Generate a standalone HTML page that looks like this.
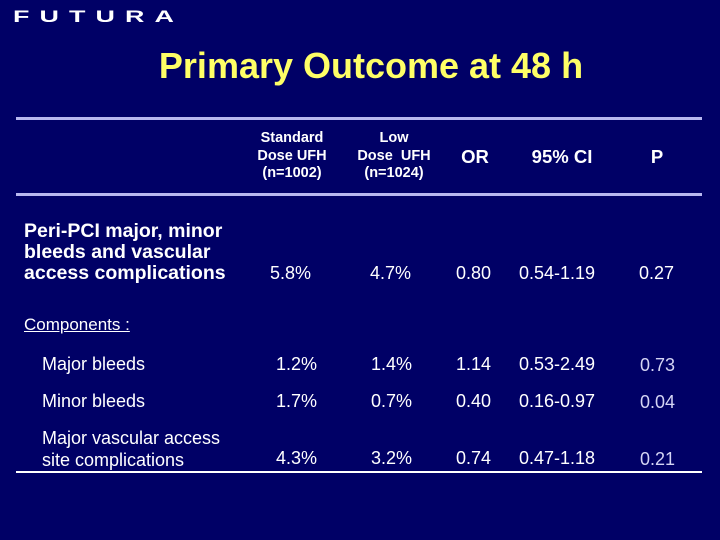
<!DOCTYPE html>
<html><head><meta charset="utf-8"><style>
html,body{margin:0;padding:0}
body{width:720px;height:540px;background:#000066;position:relative;overflow:hidden;font-family:"Liberation Sans",sans-serif;color:#fff}
.t{position:absolute;white-space:nowrap;line-height:1}
.c{transform:translateX(-50%);text-align:center}
.h{font-size:14.5px;line-height:17.5px;font-weight:bold}
.v{font-size:18px}
.hv{font-size:18.5px;font-weight:bold}
.b{font-weight:bold}
.p{color:#d4d4f4}
.rule{position:absolute;left:16px;width:686px;height:3px}
</style></head><body>
<div class="t" style="left:13px;top:9px;font-size:24px;letter-spacing:9px;transform:scale(1.12,0.68);transform-origin:left top;font-weight:bold">FUTURA</div>
<div class="t b c" style="left:371px;top:48px;font-size:36px;color:#ffff66">Primary Outcome at 48 h</div>
<div class="rule" style="top:117px;background:#b8b8f0"></div>
<div class="rule" style="top:193px;background:#b8b8f0"></div>
<div class="rule" style="top:471px;height:2px;background:#fff"></div>

<div class="t c h" style="left:292px;top:130px">Standard<br>Dose UFH<br>(n=1002)</div>
<div class="t c h" style="left:394px;top:130px">Low<br>Dose&nbsp; UFH<br>(n=1024)</div>
<div class="t c hv" style="left:475px;top:148px">OR</div>
<div class="t c hv" style="left:562px;top:148px">95% CI</div>
<div class="t c hv" style="left:657px;top:148px">P</div>

<div class="t b" style="left:24px;top:221px;font-size:19.5px;line-height:21px">Peri-PCI major, minor<br>bleeds and vascular<br>access complications</div>
<div class="t v" style="left:270px;top:264px">5.8%</div>
<div class="t v" style="left:370px;top:264px">4.7%</div>
<div class="t v" style="left:456px;top:264px">0.80</div>
<div class="t v" style="left:519px;top:264px">0.54-1.19</div>
<div class="t v" style="left:639px;top:264px">0.27</div>

<div class="t" style="left:24px;top:316px;font-size:17px;text-decoration:underline">Components :</div>

<div class="t v" style="left:42px;top:355px">Major bleeds</div>
<div class="t v" style="left:276px;top:355px">1.2%</div>
<div class="t v" style="left:371px;top:355px">1.4%</div>
<div class="t v" style="left:456px;top:355px">1.14</div>
<div class="t v" style="left:519px;top:355px">0.53-2.49</div>
<div class="t v p" style="left:640px;top:356px">0.73</div>

<div class="t v" style="left:42px;top:392px">Minor bleeds</div>
<div class="t v" style="left:276px;top:392px">1.7%</div>
<div class="t v" style="left:371px;top:392px">0.7%</div>
<div class="t v" style="left:456px;top:392px">0.40</div>
<div class="t v" style="left:519px;top:392px">0.16-0.97</div>
<div class="t v p" style="left:640px;top:393px">0.04</div>

<div class="t v" style="left:42px;top:427px;line-height:22px">Major vascular access<br>site complications</div>
<div class="t v" style="left:276px;top:449px">4.3%</div>
<div class="t v" style="left:371px;top:449px">3.2%</div>
<div class="t v" style="left:456px;top:449px">0.74</div>
<div class="t v" style="left:519px;top:449px">0.47-1.18</div>
<div class="t v p" style="left:640px;top:450px">0.21</div>
</body></html>
